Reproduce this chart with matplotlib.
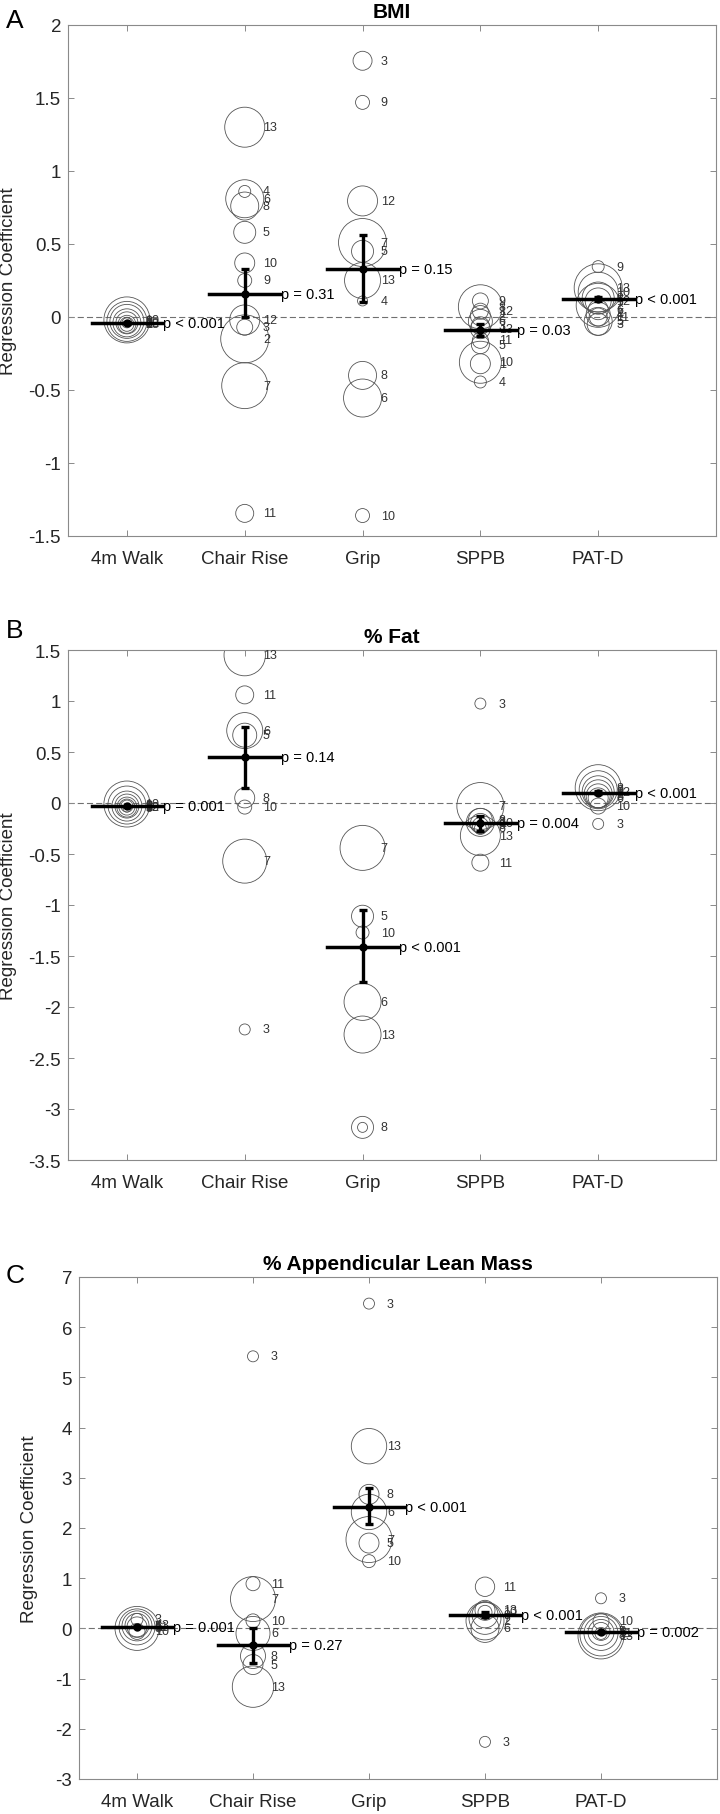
import numpy as np
import matplotlib.pyplot as plt

plt.rcParams["font.family"] = ["Liberation Sans", "DejaVu Sans"]

measures = ["4m Walk", "Chair Rise", "Grip", "SPPB", "PAT-D"]

# ---- panel A: BMI ----
bmi_vals = [
    [-0.02, -0.03, -0.03, -0.04, -0.04, -0.05, -0.05, -0.04],
    [1.30, 0.86, 0.81, 0.76, 0.58, 0.37, 0.25, -0.02, -0.07, -0.15, -0.47, -1.345],
    [1.755, 1.47, 0.795, 0.51, 0.45, 0.25, 0.11, -0.40, -0.555, -1.36],
    [0.11, 0.07, 0.04, 0.01, -0.03, -0.06, -0.08, -0.16, -0.19, -0.31, -0.32, -0.445],
    [0.345, 0.20, 0.17, 0.13, 0.11, 0.08, 0.05, 0.02, 0.0, -0.03, -0.05],
]
bmi_wts = [
    [23, 20, 17, 14, 11, 9, 7, 5],
    [20, 6, 19, 14, 11, 10, 7, 15, 8, 24, 23, 9],
    [9.5, 7, 15, 24, 11, 18, 5, 14, 19, 7],
    [8, 22, 8, 10, 12, 9, 10, 8, 9, 21, 10, 6],
    [6, 24, 20, 16, 13, 22, 10, 12, 9, 14, 11],
]
bmi_ids = [
    ["10", "8", "6", "3", "12", "13", "2", "5"],
    ["13", "4", "6", "8", "5", "10", "9", "12", "3", "2", "7", "11"],
    ["3", "9", "12", "7", "5", "13", "4", "8", "6", "10"],
    ["9", "8", "12", "2", "6", "3", "13", "11", "5", "10", "1", "4"],
    ["9", "13", "10", "8", "12", "2", "6", "4", "11", "5", "3"],
]
bmi_est = [-0.04, 0.16, 0.33, -0.09, 0.12]
bmi_lo = [-0.045, 0.0, 0.10, -0.13, 0.11]
bmi_hi = [-0.035, 0.33, 0.565, -0.05, 0.135]
bmi_p = ["p < 0.001", "p = 0.31", "p = 0.15", "p = 0.03", "p < 0.001"]

# ---- panel B: % Fat ----
fat_vals = [
    [-0.01, -0.02, -0.03, -0.03, -0.04, -0.04, -0.03, -0.05],
    [1.45, 1.06, 0.71, 0.665, 0.05, -0.04, -0.57, -2.22],
    [-0.44, -1.11, -1.27, -1.95, -2.27, -3.18, -3.18],
    [0.975, -0.03, -0.17, -0.20, -0.22, -0.32, -0.585, -0.19, -0.25],
    [0.15, 0.13, 0.07, 0.05, -0.03, -0.205, 0.11, 0.09],
]
fat_wts = [
    [23, 19, 15, 12, 10, 8, 6, 4],
    [20.7, 9, 18, 12, 10, 7, 22, 5.5],
    [22.5, 11, 6.5, 18.5, 18.5, 11, 5],
    [5.5, 23.5, 12, 10, 8, 20, 8.5, 14, 6],
    [23, 19, 12, 10, 8, 5.5, 16, 14],
]
fat_ids = [
    ["10", "8", "6", "3", "12", "13", "2", "5"],
    ["13", "11", "6", "5", "8", "10", "7", "3"],
    ["7", "5", "10", "6", "13", "8", ""],
    ["3", "7", "8", "10", "9", "13", "11", "2", "6"],
    ["8", "9", "5", "6", "10", "3", "12", "2"],
]
fat_est = [-0.03, 0.45, -1.41, -0.20, 0.10]
fat_lo = [-0.04, 0.15, -1.75, -0.27, 0.085]
fat_hi = [-0.025, 0.75, -1.05, -0.13, 0.115]
fat_p = ["p = 0.001", "p = 0.14", "p < 0.001", "p = 0.004", "p < 0.001"]

# ---- panel C: % appendicular lean mass ----
alm_vals = [
    [0.0, 0.03, 0.05, 0.06, 0.03, 0.18, -0.06],
    [5.42, 0.89, 0.585, 0.15, -0.10, -0.55, -0.72, -1.16],
    [6.47, 3.63, 2.67, 2.32, 1.77, 1.70, 1.34],
    [0.83, 0.36, 0.32, 0.27, 0.20, 0.15, 0.0, -2.26],
    [0.60, 0.14, -0.15, -0.13, -0.10, -0.08, -0.06, -0.10],
]
alm_wts = [
    [22, 18, 15, 12, 10, 6, 8],
    [5.5, 7, 22.5, 7, 17, 12.5, 10, 20.7],
    [5.5, 17.7, 10, 17.7, 23, 10, 6.5],
    [9.7, 10, 7, 13, 16, 19, 14, 5.5],
    [5.5, 8, 23, 21, 17, 13, 9, 6],
]
alm_ids = [
    ["8", "6", "5", "13", "11", "3", "10"],
    ["3", "11", "7", "10", "6", "8", "5", "13"],
    ["3", "13", "8", "6", "7", "5", "10"],
    ["11", "13", "10", "9", "7", "2", "6", "3"],
    ["3", "10", "13", "8", "7", "6", "5", "11"],
]
alm_est = [0.03, -0.34, 2.42, 0.27, -0.07]
alm_lo = [0.02, -0.68, 2.07, 0.22, -0.10]
alm_hi = [0.045, 0.0, 2.79, 0.32, -0.05]
alm_p = ["p = 0.001", "p = 0.27", "p < 0.001", "p < 0.001", "p = 0.002"]

DPI = 100
W, H = 720, 1815
spine_col = "#8a8a8a"
text_col = "#262626"


def wt_to_size(w):
    # weight -> marker radius in px -> scatter area in pt^2
    d_pt = 2 * np.asarray(w, dtype=float) * 72 / DPI
    return d_pt ** 2


def panel(fig, rect, title, letter, letter_y, vals, wts, ids, est, lo, hi, ptxt,
          ylim, yticks, ylab_x):
    ax = fig.add_axes(rect)
    ax.axhline(0, color="#707070", lw=0.8, ls=(0, (5.5, 2.8)), zorder=1)
    for i in range(len(measures)):
        x = i + 1
        v = np.array(vals[i])
        ax.scatter(np.full(len(v), x), v, s=wt_to_size(wts[i]), facecolors="none",
                   edgecolors="#555555", linewidths=0.6, zorder=2)
        for yy, lab in zip(v, ids[i]):
            if lab:
                ax.text(x + 0.155, yy, lab, fontsize=9, color="#333333",
                        ha="left", va="center", zorder=3)
        ax.plot([x - 0.3, x + 0.3], [est[i], est[i]], color="black", lw=2.5, zorder=4)
        ax.errorbar([x], [est[i]], yerr=[[est[i] - lo[i]], [hi[i] - est[i]]],
                    fmt="o", color="black", ms=5, elinewidth=2.4, capsize=3,
                    capthick=2.4, zorder=5)
        ax.text(x + 0.31, est[i], ptxt[i], fontsize=10.5, color="black",
                ha="left", va="center", zorder=6)

    ax.set_xlim(0.5, 6)
    ax.set_ylim(*ylim)
    ax.set_xticks(range(1, 6))
    ax.set_xticklabels(measures)
    ax.set_yticks(yticks)
    ax.set_yticklabels(["%g" % t for t in yticks])
    ax.tick_params(direction="in", length=4.5, width=0.7, color=spine_col,
                   labelsize=13.5, labelcolor=text_col, top=True, right=True)
    ax.tick_params(axis="x", pad=10)
    ax.tick_params(axis="y", pad=5)
    for sp in ax.spines.values():
        sp.set_color(spine_col)
        sp.set_linewidth(0.8)
    ax.set_ylabel("Regression Coefficient", fontsize=13.5, color=text_col)
    ax.yaxis.set_label_coords(ylab_x, 0.5)
    ax.set_title(title, fontsize=15, fontweight="bold", color="black", pad=5.5)
    fig.text(6 / W, 1 - letter_y / H, letter, fontsize=19, ha="left", va="center",
             color="black")
    return ax


fig = plt.figure(figsize=(W / DPI, H / DPI), dpi=DPI)

panel(fig, [68 / W, 1 - 537 / H, 648 / W, 511 / H], "BMI", "A", 21,
      bmi_vals, bmi_wts, bmi_ids, bmi_est, bmi_lo, bmi_hi, bmi_p,
      (-1.5, 2), np.arange(-1.5, 2.01, 0.5), -0.078)

panel(fig, [68 / W, 1 - 1161 / H, 648 / W, 510 / H], "% Fat", "B", 631,
      fat_vals, fat_wts, fat_ids, fat_est, fat_lo, fat_hi, fat_p,
      (-3.5, 1.5), np.arange(-3.5, 1.51, 0.5), -0.078)

panel(fig, [79 / W, 1 - 1780 / H, 638 / W, 502 / H], "% Appendicular Lean Mass", "C", 1276,
      alm_vals, alm_wts, alm_ids, alm_est, alm_lo, alm_hi, alm_p,
      (-3, 7), np.arange(-3, 7.01, 1), -0.064)

fig.savefig("out.png", dpi=DPI)
